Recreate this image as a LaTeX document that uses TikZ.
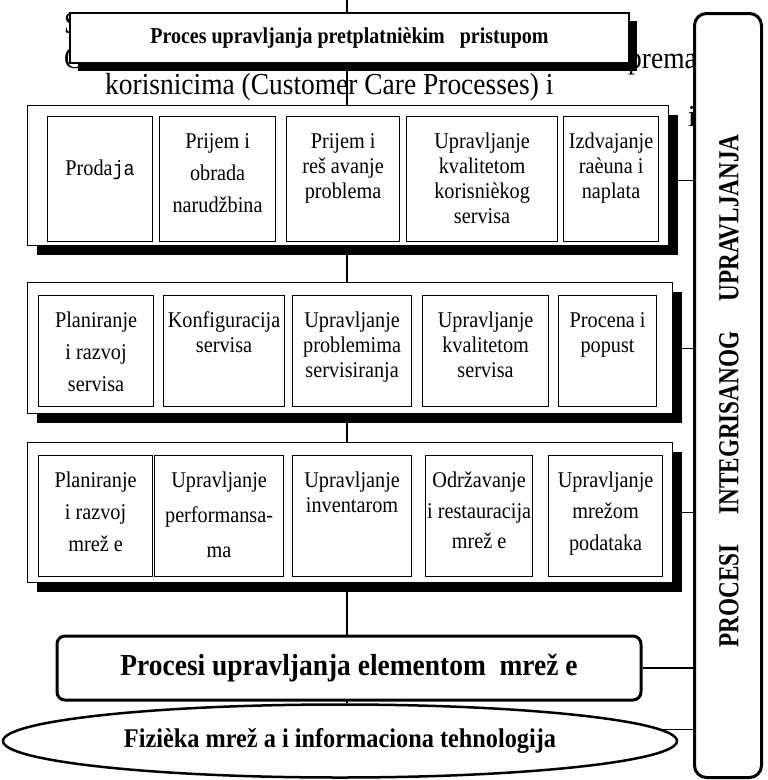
\documentclass[tikz,border=0pt]{standalone}
\usepackage{fontspec}
\setmainfont{Liberation Serif}
\setmonofont{Liberation Mono}
% narrowed faces for the tall, condensed lettering
\newfontfamily\narrowserif{Liberation Serif}[FakeStretch=0.9]
\newfontfamily\narrowmono{Liberation Mono}[FakeStretch=0.9]
\newfontfamily\titleserif{Liberation Serif}[FakeStretch=0.88]
\newfontfamily\sideserif{Liberation Serif}[FakeStretch=0.8]
\usetikzlibrary{shapes.geometric,shadows}
\pgfdeclarelayer{back}
\pgfdeclarelayer{wires}
\pgfsetlayers{back,wires,main}

\tikzset{
  bgtext/.style={inner sep=0pt, anchor=base west, font=\narrowserif\fontsize{30.5}{33}\selectfont},
  shadowed/.style={drop shadow={shadow xshift=#1, shadow yshift=-#1, fill=black, opacity=1}},
  panel/.style={draw, line width=1.2pt, fill=white, inner sep=0pt, anchor=north west, shadowed=9pt},
  cell/.style={draw, line width=1.2pt, fill=white, inner sep=0pt, anchor=north west},
  celltext/.style={inner sep=0pt, anchor=north, align=center, font=\narrowserif\fontsize{22.5}{25}\selectfont},
  titlebox/.style={draw, line width=1.2pt, fill=white, inner sep=0pt, shadowed=8pt,
    font=\titleserif\bfseries\fontsize{22.7}{26}\selectfont},
  elembox/.style={draw, line width=3pt, rounded corners=8pt, fill=white, inner sep=0pt,
    font=\narrowserif\bfseries\fontsize{30.5}{33}\selectfont},
  physical/.style={ellipse, draw, line width=2.5pt, fill=white, inner sep=0pt,
    font=\narrowserif\bfseries\fontsize{27}{30}\selectfont},
  sidebox/.style={draw, line width=3pt, rounded corners=12pt, fill=white, inner sep=0pt, anchor=north west},
  sidetext/.style={inner sep=0pt, rotate=90, font=\sideserif\bfseries\fontsize{29}{32}\selectfont},
  wire/.style={line width=1.2pt},
}

% a process cell: name, x1, y1, x2, y2, text drop from the top edge, text
\newcommand\mkcell[7]{%
  \node[cell, minimum width={#4pt-#2pt}, minimum height={#5pt-#3pt}] (#1) at (#2,#3) {};
  \node[celltext] (#1t) at ([yshift=-#6pt]#1.north) {\strut #7};
}

\begin{document}
\begin{tikzpicture}[x=1pt,y=-1pt]
\useasboundingbox (0,0) rectangle (768,780);

% running text of the page, partly covered by the chart
\begin{pgfonlayer}{back}
  \node[bgtext] (bgS) at (64,33) {S};
  \node[bgtext] (bgC) at (64,68) {C};
  \node[bgtext] (bgprema) at (628,68) {prema};
  \node[bgtext] (bgkor) at (105,94) {korisnicima (Customer Care Processes) i};
  \node[bgtext] (bgi) at (688,126) {i};
\end{pgfonlayer}

% subscriber access process
\node[titlebox, minimum width=559pt, minimum height=50pt] (title) at (349.5,38)
  {Proces upravljanja pretplatnièkim\ \ \ pristupom};

% customer care processes
\node[panel, minimum width=641pt, minimum height=140pt] (b1) at (27,105) {};
\mkcell{c11}{47}{116}{152}{241}{41.5}{Proda{\narrowmono\fontsize{20.5}{25}\selectfont ja}}
\mkcell{c12}{159}{116}{275}{241}{14.5}{Prijem i\\[7pt]obrada\\[7pt]narudžbina}
\mkcell{c13}{286}{116}{399}{241}{14.5}{Prijem i\\reš avanje\\problema}
\mkcell{c14}{406}{116}{557}{241}{14.5}{Upravljanje\\kvalitetom\\korisnièkog\\servisa}
\mkcell{c15}{563}{116}{658}{241}{14.5}{Izdvajanje\\raèuna i\\naplata}

% service development and operations
\node[panel, minimum width=645pt, minimum height=131pt] (b2) at (27,282) {};
\mkcell{c21}{38}{295}{153}{406}{14.5}{Planiranje\\[7pt]i razvoj\\[7pt]servisa}
\mkcell{c22}{163}{295}{284}{406}{14.5}{Konfiguracija\\servisa}
\mkcell{c23}{292}{295}{411}{406}{14.5}{Upravljanje\\problemima\\servisiranja}
\mkcell{c24}{422}{295}{548}{406}{14.5}{Upravljanje\\kvalitetom\\servisa}
\mkcell{c25}{558}{295}{656}{406}{14.5}{Procena i\\popust}

% network and systems management
\node[panel, minimum width=645pt, minimum height=140pt] (b3) at (27,442) {};
\mkcell{c31}{38}{455}{152}{576}{14.5}{Planiranje\\[7pt]i razvoj\\[7pt]mrež e}
\mkcell{c32}{154}{455}{283}{576}{14.5}{Upravljanje\\[10pt]performansa-\\[10pt]ma}
\mkcell{c33}{292}{455}{411}{576}{14.5}{Upravljanje\\inventarom}
\mkcell{c34}{425}{455}{532}{576}{14.5}{Održavanje\\[6pt]i restauracija\\[5pt]mrež e}
\mkcell{c35}{548}{455}{662}{576}{14.5}{Upravljanje\\[6pt]mrežom\\[7pt]podataka}

% element management and physical layer
\node[elembox, minimum width=584pt, minimum height=64pt] (eb) at (349,668)
  {Procesi upravljanja elementom\ \ mrež e};
\node[physical, minimum width=674pt, minimum height=73pt] (phys) at (340,741)
  {Fizièka mrež a i informaciona tehnologija};

% integrated management column
\node[sidebox, minimum width=67pt, minimum height=764pt] (side) at (693,12) {};
\node[sidetext] (sidet) at (729,391)
  {PROCESI\hspace{30pt}INTEGRISANOG\hspace{30pt}UPRAVLJANJA};

% central spine
\begin{pgfonlayer}{wires}
  \coordinate (spinetop) at (347,0);
  \draw[wire] (spinetop) -- (spinetop |- phys.north);
\end{pgfonlayer}

% links to the integrated management column
\coordinate (b1e) at ([yshift=-5pt]b1.east);
\draw[wire] (b1e) -- (b1e -| side.west);
\draw[wire] (b2.east) -- (b2.east -| side.west);
\draw[wire] (b3.east) -- (b3.east -| side.west);
\draw[wire] (eb.east) -- (eb.east -| side.west);
\draw[wire] (phys.2) -- (phys.2 -| side.west);
\end{tikzpicture}
\end{document}
